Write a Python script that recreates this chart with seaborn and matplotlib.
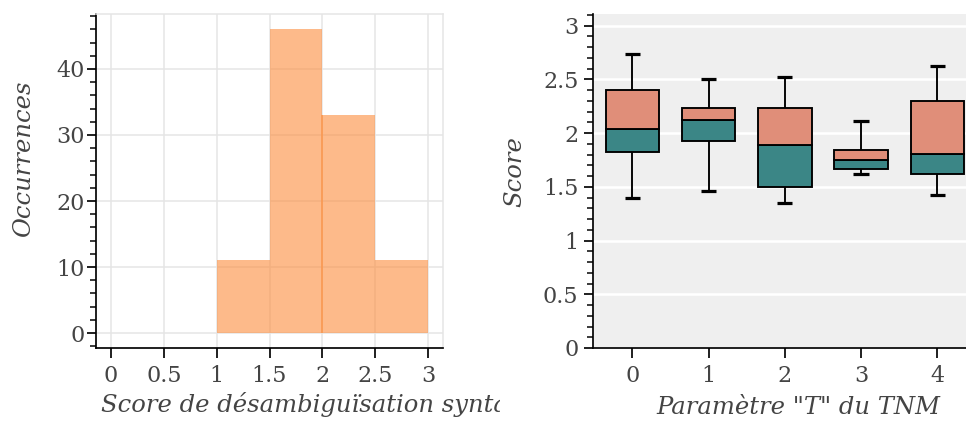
import matplotlib
matplotlib.use("Agg")
import matplotlib.pyplot as plt
from matplotlib.ticker import MultipleLocator, FixedLocator, FuncFormatter
from matplotlib.transforms import Bbox
import seaborn as sns
import numpy as np

# ---------------- data ----------------
hist_bin_edges = [1.0, 1.5, 2.0, 2.5, 3.0]
hist_bin_centers = [1.25, 1.75, 2.25, 2.75]
hist_counts = [11, 46, 33, 11]

tnm_T = [0, 1, 2, 3, 4]
whisker_low = [1.40, 1.46, 1.35, 1.62, 1.42]
q1 = [1.82, 1.925, 1.50, 1.67, 1.62]
median = [2.04, 2.12, 1.885, 1.75, 1.805]
q3 = [2.40, 2.234, 2.234, 1.847, 2.296]
whisker_high = [2.737, 2.50, 2.526, 2.114, 2.622]

hist_xticks = [0, 0.5, 1, 1.5, 2, 2.5, 3]
hist_yticks = [0, 10, 20, 30, 40]
box_yticks = [0, 0.5, 1, 1.5, 2, 2.5, 3]

# ---------------- style ----------------
sns.set_theme(style="white")
plt.rcParams["font.family"] = ["DejaVu Serif"]
plt.rcParams["xtick.bottom"] = True
plt.rcParams["ytick.left"] = True
TXT = "#444444"
DPI = 100
PX = 72.0 / DPI  # points per pixel
TICK_FS = 16
LABEL_FS = 17.5

fig = plt.figure(figsize=(9.66, 4.21), dpi=DPI)
W, H = 966, 421

def axes_px(l, t, r, b):
    return fig.add_axes([l / W, 1 - b / H, (r - l) / W, (b - t) / H])

def fmt(v, pos):
    return ("%g" % v)

def style_axis(ax, ypad):
    ax.tick_params(axis="both", which="both", bottom=True, left=True,
                   top=False, right=False)
    ax.tick_params(axis="both", which="major", direction="out", length=9.5 * PX,
                   width=1.7 * PX, color="black", labelcolor=TXT, labelsize=TICK_FS)
    ax.tick_params(axis="y", which="minor", direction="out", length=6.5 * PX,
                   width=1.5 * PX, color="black")
    ax.tick_params(axis="y", which="major", pad=ypad)
    ax.tick_params(axis="x", which="major", pad=8 * PX)
    ax.tick_params(axis="x", which="minor", length=0)
    for s in ["left", "bottom"]:
        ax.spines[s].set_color("black")
        ax.spines[s].set_linewidth(1.7 * PX)
    ax.xaxis.set_major_formatter(FuncFormatter(fmt))
    ax.yaxis.set_major_formatter(FuncFormatter(fmt))

# ---------------- left: histogram ----------------
ax1 = axes_px(96, 14, 443, 348)
sns.histplot(x=hist_bin_centers, weights=hist_counts, bins=hist_bin_edges,
             color="#fd8d3c", alpha=0.6, linewidth=0, ax=ax1, zorder=2)
# visible left edge of the 2.0–2.5 bin, as in the reference
ax1.vlines(hist_bin_edges[2], 0, hist_counts[2], color="#fd8d3c", alpha=0.75,
           linewidth=1.5 * PX, zorder=3)
ax1.set_xlim(-0.142, 3.142)
ax1.set_ylim(-2.27, 48.33)
ax1.xaxis.set_major_locator(FixedLocator(hist_xticks))
ax1.yaxis.set_major_locator(FixedLocator(hist_yticks))
ax1.yaxis.set_minor_locator(MultipleLocator(2))
ax1.grid(True, which="major", color="#e5e5e5", linewidth=1.5 * PX, zorder=0)
ax1.set_axisbelow(True)
style_axis(ax1, ypad=1.5 * PX)
for s in ["top", "right"]:
    ax1.spines[s].set_visible(True)
    ax1.spines[s].set_color("#e5e5e5")
    ax1.spines[s].set_linewidth(1.5 * PX)

ax1.set_ylabel("Occurrences", fontsize=LABEL_FS, style="italic", color=TXT, va="center")
ax1.yaxis.set_label_coords(-0.21, 0.566)
xl = ax1.set_xlabel("Score de désambiguïsation syntaxique", fontsize=LABEL_FS,
                    style="italic", color=TXT, ha="left", va="center")
ax1.xaxis.set_label_coords(0.015, -0.17)
xl.set_clip_on(True)
xl.set_clip_box(Bbox.from_extents(0, 0, 500, H))

# ---------------- right: box plot ----------------
ax2 = axes_px(593, 14, 1003, 348)
ax2.set_facecolor("#efefef")
x = np.array(tnm_T, dtype=float)
lo = np.array(whisker_low); a = np.array(q1); m = np.array(median)
b = np.array(q3); hi = np.array(whisker_high)
box_w = 0.7
cap_w = 0.2
lw_box = 1.9 * PX
ax2.vlines(x, b, hi, color="black", linewidth=lw_box, zorder=2)
ax2.vlines(x, lo, a, color="black", linewidth=lw_box, zorder=2)
ax2.hlines(hi, x - cap_w / 2, x + cap_w / 2, color="black", linewidth=3.2 * PX, zorder=2)
ax2.hlines(lo, x - cap_w / 2, x + cap_w / 2, color="black", linewidth=3.2 * PX, zorder=2)
ax2.bar(x, m - a, bottom=a, width=box_w, color="#3B8686", edgecolor="black",
        linewidth=lw_box, zorder=3)
ax2.bar(x, b - m, bottom=m, width=box_w, color="#E08E79", edgecolor="black",
        linewidth=lw_box, zorder=3)
ax2.set_xlim(-0.515, 4.86)
ax2.set_ylim(0, 3.108)
ax2.xaxis.set_major_locator(FixedLocator(tnm_T))
ax2.yaxis.set_major_locator(FixedLocator(box_yticks))
ax2.yaxis.set_minor_locator(MultipleLocator(0.1))
ax2.grid(True, axis="y", which="major", color="white", linewidth=2.6 * PX, zorder=0)
ax2.grid(False, axis="x")
ax2.set_axisbelow(True)
style_axis(ax2, ypad=5 * PX)
for s in ["top", "right"]:
    ax2.spines[s].set_visible(False)

ax2.set_ylabel("Score", fontsize=LABEL_FS, style="italic", color=TXT, va="center")
ax2.yaxis.set_label_coords(-0.19, 0.527)
ax2.set_xlabel('Paramètre "T" du TNM', fontsize=LABEL_FS, style="italic", color=TXT,
               va="center")
ax2.xaxis.set_label_coords(0.5, -0.177)

fig.savefig("out.png", dpi=DPI)
